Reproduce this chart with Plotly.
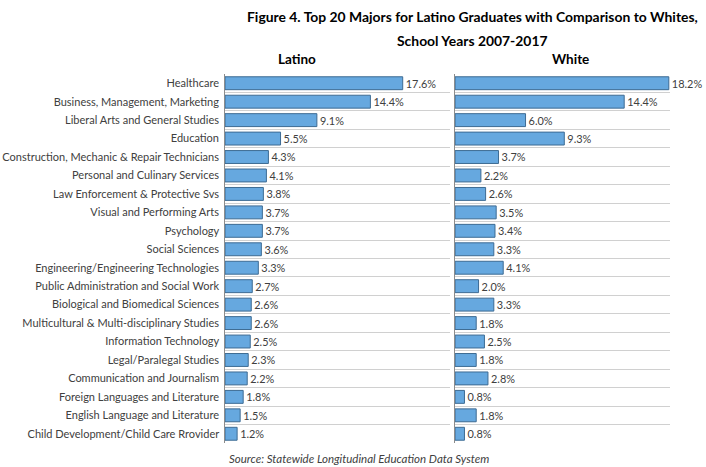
import plotly.graph_objects as go

majors = [
    "Healthcare",
    "Business, Management, Marketing",
    "Liberal Arts and General Studies",
    "Education",
    "Construction, Mechanic & Repair Technicians",
    "Personal and Culinary Services",
    "Law Enforcement & Protective Svs",
    "Visual and Performing Arts",
    "Psychology",
    "Social Sciences",
    "Engineering/Engineering Technologies",
    "Public Administration and Social Work",
    "Biological and Biomedical Sciences",
    "Multicultural & Multi-disciplinary Studies",
    "Information Technology",
    "Legal/Paralegal Studies",
    "Communication and Journalism",
    "Foreign Languages and Literature",
    "English Language and Literature",
    "Child Development/Child Care Rrovider",
]
latino = [17.6, 14.4, 9.1, 5.5, 4.3, 4.1, 3.8, 3.7, 3.7, 3.6,
          3.3, 2.7, 2.6, 2.6, 2.5, 2.3, 2.2, 1.8, 1.5, 1.2]
white = [18.2, 14.4, 6.0, 9.3, 3.7, 2.2, 2.6, 3.5, 3.4, 3.3,
         4.1, 2.0, 3.3, 1.8, 2.5, 1.8, 2.8, 0.8, 1.8, 0.8]

FONT = "Lato"
TXT = "#404040"
BAR = "#66a8df"
EDGE = "#3d6b93"

fig = go.Figure()
fig.add_trace(go.Bar(
    y=majors, x=latino, orientation="h", xaxis="x", yaxis="y",
    marker=dict(color=BAR, line=dict(color=EDGE, width=1)),
    text=[f"{v:.1f}%" for v in latino], textposition="outside",
    textfont=dict(family=FONT, size=11, color=TXT), cliponaxis=False,
    showlegend=False,
))
fig.add_trace(go.Bar(
    y=majors, x=white, orientation="h", xaxis="x2", yaxis="y2",
    marker=dict(color=BAR, line=dict(color=EDGE, width=1)),
    text=[f"{v:.1f}%" for v in white], textposition="outside",
    textfont=dict(family=FONT, size=11, color=TXT), cliponaxis=False,
    showlegend=False,
))

yax = dict(
    type="category", autorange="reversed", tickson="boundaries",
    showgrid=True, gridcolor="#d0d0d0", gridwidth=1,
    showline=True, linecolor="#8c8c8c", linewidth=1, ticks="",
    tickfont=dict(family=FONT, size=11, color=TXT), automargin=False,
)
fig.update_layout(
    width=706, height=467,
    margin=dict(l=225, r=36, t=74, b=24, autoexpand=False),
    paper_bgcolor="white", plot_bgcolor="white",
    bargap=0.3,
    xaxis=dict(domain=[0, 0.506], range=[0, 22.3], visible=False, automargin=False),
    xaxis2=dict(domain=[0.517, 1], range=[0, 18.3], visible=False, automargin=False),
    yaxis=dict(**yax, anchor="x", ticksuffix=" "),
    yaxis2=dict(**yax, anchor="x2", showticklabels=False),
    annotations=[
        dict(text="<b>Figure 4. Top 20 Majors for Latino Graduates with Comparison to Whites,</b>",
             xref="paper", yref="paper", x=0.556, y=1.1545, xanchor="center", yanchor="middle",
             showarrow=False, font=dict(family=FONT, size=13.9, color="#000000")),
        dict(text="<b>School Years 2007-2017</b>",
             xref="paper", yref="paper", x=0.556, y=1.0921, xanchor="center", yanchor="middle",
             showarrow=False, font=dict(family=FONT, size=13.9, color="#000000")),
        dict(text="<b>Latino</b>", xref="paper", yref="paper", x=0.1615, y=1.0,
             xanchor="center", yanchor="bottom", yshift=5, showarrow=False,
             font=dict(family=FONT, size=13.5, color="#000000")),
        dict(text="<b>White</b>", xref="paper", yref="paper", x=0.776, y=1.0,
             xanchor="center", yanchor="bottom", yshift=5, showarrow=False,
             font=dict(family=FONT, size=13.5, color="#000000")),
        dict(text="<i>Source: Statewide Longitudinal Education Data System</i>",
             xref="paper", yref="paper", x=0.301, y=-0.0407, xanchor="center", yanchor="middle",
             showarrow=False, font=dict(family=FONT, size=11.5, color=TXT)),
    ],
)

fig.write_html("out.html", config={"displayModeBar": False},
               post_script="document.body.style.margin='0px';")
